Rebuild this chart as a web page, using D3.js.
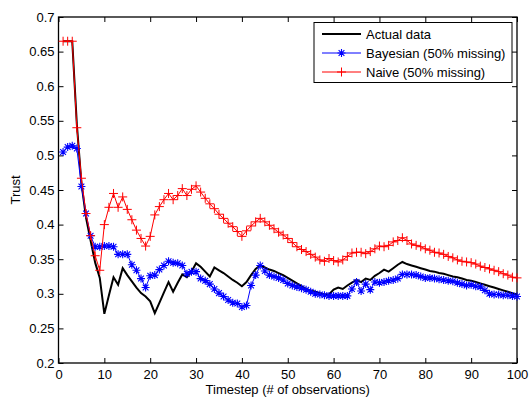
<!DOCTYPE html>
<html>
<head>
<meta charset="utf-8">
<script src="https://cdn.jsdelivr.net/npm/d3@7"></script>
<style>
  html, body { margin: 0; padding: 0; background: #fff; }
  svg { display: block; font-family: "Liberation Sans", Arial, sans-serif; }
</style>
</head>
<body>
<svg id="chart" width="530" height="398"></svg>
<script>
// Trust estimates per timestep (x = 1..100)
const timesteps = d3.range(1, 101);

const actualData = [
  0.665, 0.665, 0.665, 0.545, 0.460, 0.410, 0.377, 0.345, 0.323, 0.271,
  0.298, 0.324, 0.313, 0.337, 0.327, 0.318, 0.309, 0.301, 0.296, 0.289,
  0.272, 0.287, 0.302, 0.317, 0.303, 0.316, 0.328, 0.324, 0.332, 0.344,
  0.339, 0.332, 0.325, 0.338, 0.334, 0.330, 0.325, 0.320, 0.316, 0.311,
  0.317, 0.327, 0.336, 0.341, 0.338, 0.335, 0.333, 0.330, 0.327, 0.323,
  0.319, 0.315, 0.311, 0.307, 0.305, 0.303, 0.301, 0.299, 0.299, 0.306,
  0.309, 0.307, 0.312, 0.316, 0.320, 0.317, 0.322, 0.320, 0.326, 0.330,
  0.335, 0.332, 0.337, 0.342, 0.346, 0.343, 0.341, 0.339, 0.337, 0.335,
  0.333, 0.332, 0.330, 0.329, 0.327, 0.325, 0.324, 0.322, 0.320, 0.319,
  0.317, 0.315, 0.313, 0.311, 0.309, 0.307, 0.305, 0.303, 0.301, 0.299
];

const bayesian = [
  0.505, 0.512, 0.514, 0.510, 0.455, 0.416, 0.384, 0.368, 0.368, 0.369,
  0.369, 0.368, 0.357, 0.357, 0.357, 0.342, 0.334, 0.322, 0.309, 0.326,
  0.327, 0.335, 0.341, 0.347, 0.345, 0.344, 0.341, 0.329, 0.332, 0.332,
  0.322, 0.319, 0.314, 0.307, 0.301, 0.296, 0.291, 0.287, 0.286, 0.281,
  0.283, 0.312, 0.327, 0.341, 0.333, 0.327, 0.325, 0.323, 0.320, 0.315,
  0.312, 0.310, 0.308, 0.306, 0.303, 0.300, 0.299, 0.298, 0.297, 0.297,
  0.297, 0.297, 0.297, 0.307, 0.317, 0.304, 0.314, 0.306, 0.317, 0.316,
  0.317, 0.319, 0.320, 0.322, 0.328, 0.328, 0.328, 0.327, 0.325, 0.323,
  0.323, 0.322, 0.321, 0.320, 0.319, 0.318, 0.316, 0.314, 0.312, 0.313,
  0.311, 0.310, 0.305, 0.300, 0.299, 0.299, 0.298, 0.298, 0.297, 0.296
];

const naive = [
  0.665, 0.665, 0.665, 0.540, 0.467, 0.416, 0.384, 0.355, 0.334, 0.400,
  0.425, 0.445, 0.425, 0.440, 0.422, 0.407, 0.392, 0.380, 0.369, 0.383,
  0.414, 0.426, 0.436, 0.445, 0.436, 0.442, 0.452, 0.442, 0.451, 0.456,
  0.447, 0.438, 0.430, 0.423, 0.415, 0.409, 0.402, 0.397, 0.390, 0.383,
  0.391, 0.398, 0.404, 0.409, 0.404, 0.399, 0.394, 0.389, 0.385, 0.380,
  0.374, 0.368, 0.364, 0.361, 0.357, 0.353, 0.349, 0.347, 0.351, 0.348,
  0.346, 0.349, 0.354, 0.359, 0.360, 0.360, 0.358, 0.361, 0.365, 0.369,
  0.368, 0.370, 0.375, 0.377, 0.381, 0.377, 0.372, 0.370, 0.368, 0.365,
  0.363, 0.360, 0.359, 0.357, 0.354, 0.352, 0.349, 0.347, 0.346, 0.345,
  0.343, 0.340, 0.338, 0.336, 0.334, 0.332, 0.329, 0.327, 0.324, 0.323
];

const xTicks = d3.range(0, 101, 10);
const yTicks = [0.2, 0.25, 0.3, 0.35, 0.4, 0.45, 0.5, 0.55, 0.6, 0.65, 0.7];
const seriesNames = ["Actual data", "Bayesian (50% missing)", "Naive (50% missing)"];

const svg = d3.select("#chart");
const plotLeft = 58.5, plotRight = 517, plotTop = 17, plotBottom = 363;

const x = d3.scaleLinear().domain([0, 100]).range([plotLeft, plotRight]);
const y = d3.scaleLinear().domain([0.2, 0.7]).range([plotBottom, plotTop]);

// Axes (inward ticks on all four sides)
const fmt = d => String(+d.toFixed(2));
svg.append("g").attr("transform", `translate(0,${plotBottom})`)
  .call(d3.axisBottom(x).tickValues(xTicks).tickFormat(fmt).tickSizeInner(-5).tickSizeOuter(0).tickPadding(7));
svg.append("g").attr("transform", `translate(0,${plotTop})`)
  .call(d3.axisTop(x).tickValues(xTicks).tickFormat("").tickSizeInner(-5).tickSizeOuter(0));
svg.append("g").attr("transform", `translate(${plotLeft},0)`)
  .call(d3.axisLeft(y).tickValues(yTicks).tickFormat(fmt).tickSizeInner(-5).tickSizeOuter(0).tickPadding(4));
svg.append("g").attr("transform", `translate(${plotRight},0)`)
  .call(d3.axisRight(y).tickValues(yTicks).tickFormat("").tickSizeInner(-5).tickSizeOuter(0));

svg.selectAll(".domain").remove();
svg.selectAll(".tick line").attr("stroke", "#000").attr("stroke-width", 1);
svg.selectAll(".tick text").attr("font-size", 13).attr("fill", "#000")
  .attr("font-family", "'Liberation Sans', Arial, sans-serif");

// Plot box
svg.append("rect").attr("x", plotLeft).attr("y", plotTop)
  .attr("width", plotRight - plotLeft).attr("height", plotBottom - plotTop)
  .attr("fill", "none").attr("stroke", "#000").attr("stroke-width", 1.3);

// Axis labels
svg.append("text").attr("x", (plotLeft + plotRight) / 2).attr("y", 394)
  .attr("text-anchor", "middle").attr("font-size", 13).text("Timestep (# of observations)");
svg.append("text").attr("transform", `translate(20,${(plotTop + plotBottom) / 2}) rotate(-90)`)
  .attr("text-anchor", "middle").attr("font-size", 13).text("Trust");

const line = d3.line().x((d, i) => x(timesteps[i])).y(d => y(d));

// Marker shapes
const plusPath = s => `M${-s},0H${s}M0,${-s}V${s}`;
const starPath = s => {
  const d = s * 0.72;
  return `M${-s},0H${s}M0,${-s}V${s}M${-d},${-d}L${d},${d}M${-d},${d}L${d},${-d}`;
};

const plot = svg.append("g");

// Actual data
plot.append("path").datum(actualData).attr("d", line)
  .attr("fill", "none").attr("stroke", "#000").attr("stroke-width", 2);

// Bayesian estimate
plot.append("path").datum(bayesian).attr("d", line)
  .attr("fill", "none").attr("stroke", "#0000ff").attr("stroke-width", 1);
plot.append("g").selectAll("path").data(bayesian).join("path")
  .attr("transform", (d, i) => `translate(${x(timesteps[i])},${y(d)})`)
  .attr("d", starPath(4)).attr("stroke", "#0000ff").attr("stroke-width", 1.1).attr("fill", "none");

// Naive estimate
plot.append("path").datum(naive).attr("d", line)
  .attr("fill", "none").attr("stroke", "#ff0000").attr("stroke-width", 1);
plot.append("g").selectAll("path").data(naive).join("path")
  .attr("transform", (d, i) => `translate(${x(timesteps[i])},${y(d)})`)
  .attr("d", plusPath(4.5)).attr("stroke", "#ff0000").attr("stroke-width", 1).attr("fill", "none");

// Legend
const lg = svg.append("g");
lg.append("rect").attr("x", 314).attr("y", 22.5).attr("width", 198).attr("height", 60)
  .attr("fill", "#fff").attr("stroke", "#000").attr("stroke-width", 1);
const colors = ["#000", "#0000ff", "#ff0000"];
const rowY = [34, 53, 72];
seriesNames.forEach((name, i) => {
  lg.append("line").attr("x1", 322).attr("x2", 361).attr("y1", rowY[i]).attr("y2", rowY[i])
    .attr("stroke", colors[i]).attr("stroke-width", i === 0 ? 2 : 1);
  if (i === 1) {
    lg.append("path").attr("transform", `translate(341.5,${rowY[i]})`).attr("d", starPath(4))
      .attr("stroke", colors[i]).attr("stroke-width", 1.1).attr("fill", "none");
  } else if (i === 2) {
    lg.append("path").attr("transform", `translate(341.5,${rowY[i]})`).attr("d", plusPath(4.5))
      .attr("stroke", colors[i]).attr("stroke-width", 1).attr("fill", "none");
  }
  lg.append("text").attr("x", 366).attr("y", rowY[i]).attr("dy", "0.35em")
    .attr("font-size", 13).text(name);
});
</script>
</body>
</html>
